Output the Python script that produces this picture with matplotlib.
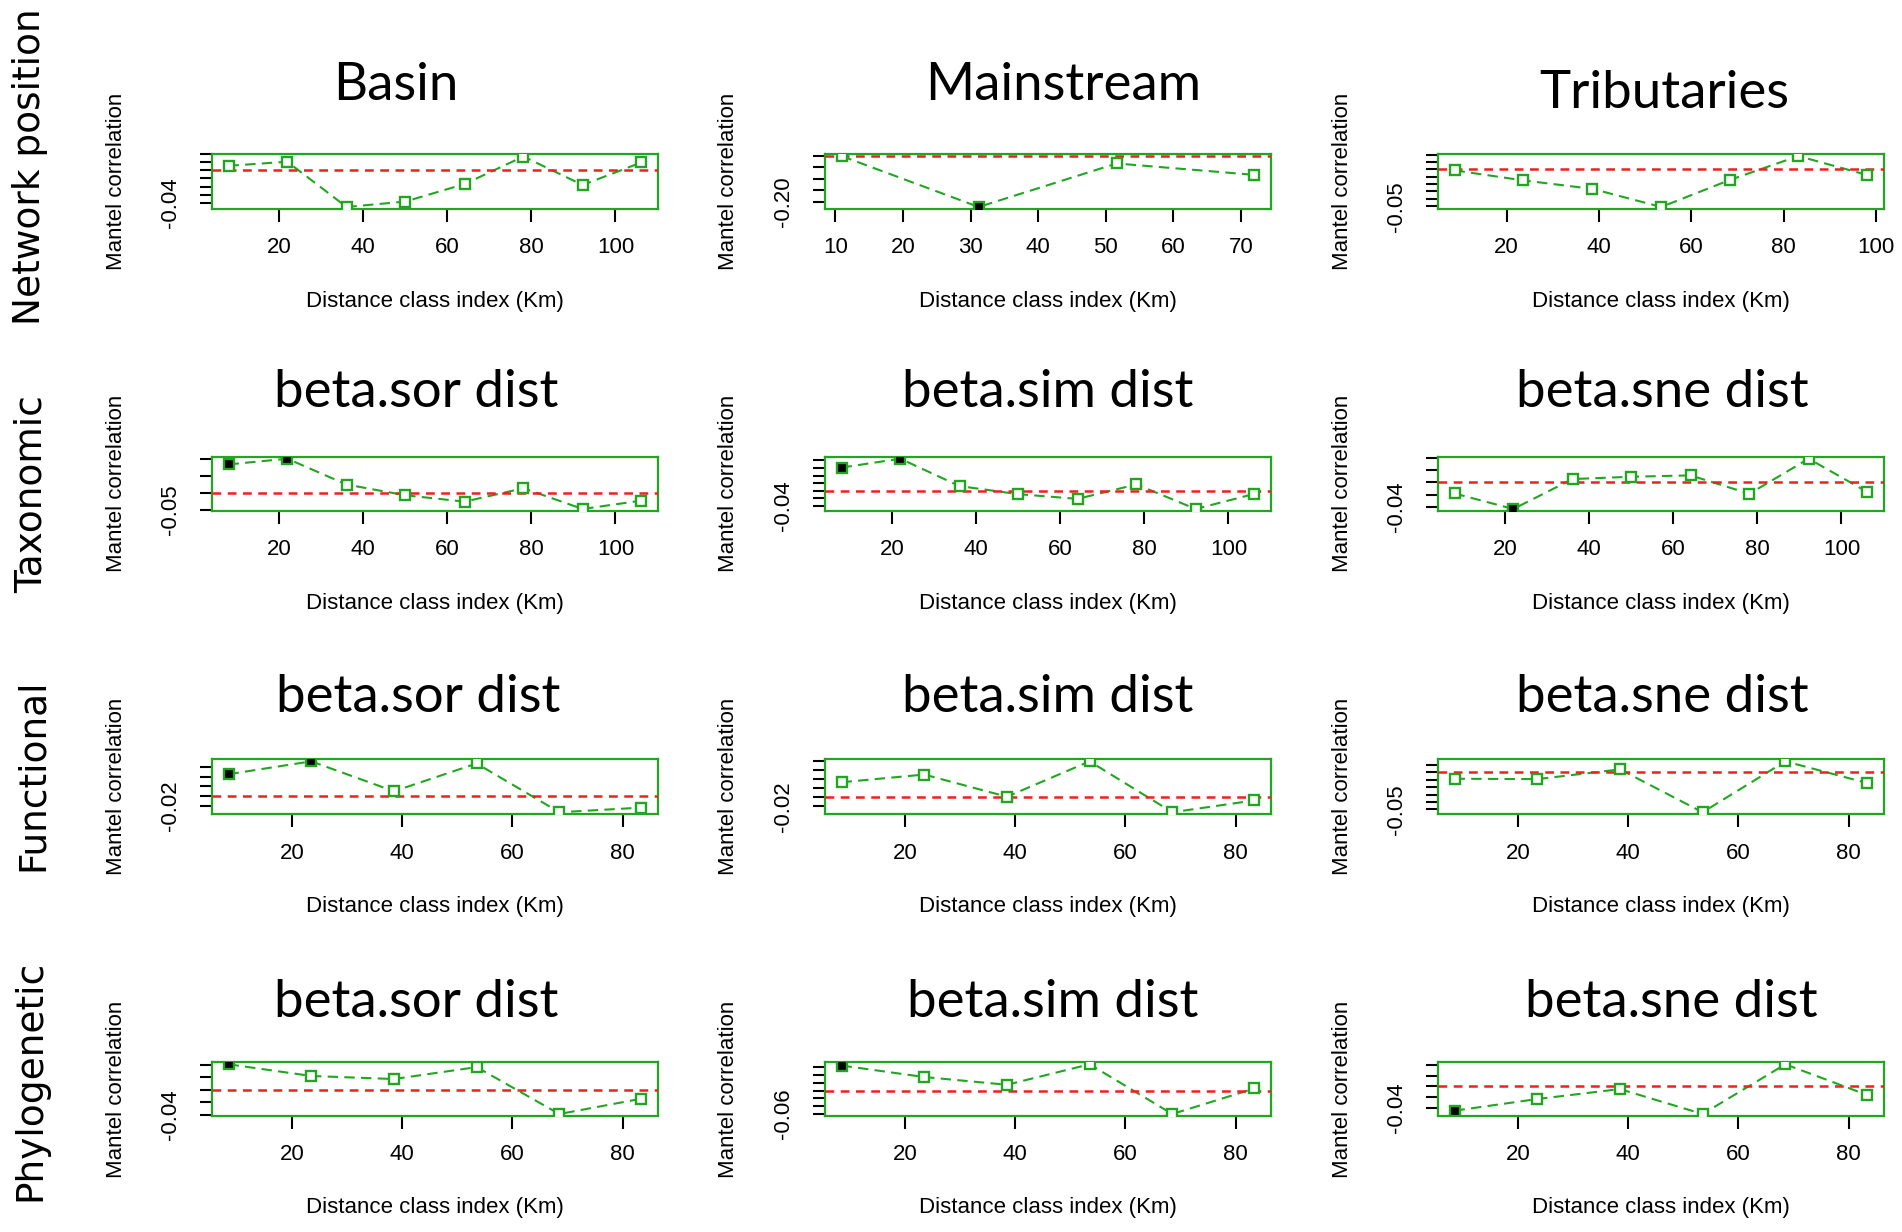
import matplotlib
matplotlib.use("Agg")
import matplotlib.pyplot as plt
import numpy as np

plt.rcParams['font.family'] = ['Liberation Sans', 'DejaVu Sans']

W, H, DPI = 1902, 1232, 100

# ---------------- data ----------------
row_labels = ["Network position", "Taxonomic", "Functional", "Phylogenetic"]
row1_titles = ["Basin", "Mainstream", "Tributaries"]
beta_titles = ["beta.sor dist", "beta.sim dist", "beta.sne dist"]

# distance class indices (Km)
x_basin = [7.9, 21.9, 36.0, 50.0, 64.1, 78.1, 92.2, 106.2]
x_main = [10.9, 31.2, 51.6, 72.0]
x_trib = [8.7, 23.6, 38.6, 53.5, 68.3, 83.2, 98.2]
x_trait = [8.5, 23.5, 38.5, 53.5, 68.5, 83.4]

xticks_basin = [20, 40, 60, 80, 100]
xticks_main = [10, 20, 30, 40, 50, 60, 70]
xticks_trib = [20, 40, 60, 80, 100]
xticks_trait = [20, 40, 60, 80]

# Mantel correlations; sig = 1 for filled (significant) points
net_basin_y = [0.0055, 0.0105, -0.0451, -0.0384, -0.0169, 0.0169, -0.0181, 0.0097]
net_basin_sig = [0, 0, 0, 0, 0, 0, 0, 0]
net_main_y = [-0.002, -0.221, -0.034, -0.083]
net_main_sig = [0, 1, 0, 0]
net_trib_y = [-0.0014, -0.0150, -0.0265, -0.0510, -0.0146, 0.0180, -0.0078]
net_trib_sig = [0, 0, 0, 0, 0, 0, 0]

tax_sor_y = [0.0833, 0.1000, 0.0245, -0.0069, -0.0255, 0.0137, -0.0470, -0.0225]
tax_sor_sig = [1, 1, 0, 0, 0, 0, 0, 0]
tax_sim_y = [0.0608, 0.0840, 0.0123, -0.0088, -0.0211, 0.0167, -0.0476, -0.0079]
tax_sim_sig = [1, 1, 0, 0, 0, 0, 0, 0]
tax_sne_y = [-0.0181, -0.0435, 0.0055, 0.0093, 0.0115, -0.0186, 0.0388, -0.0159]
tax_sne_sig = [0, 1, 0, 0, 0, 0, 0, 0]

fun_sor_y = [0.0452, 0.0720, 0.0097, 0.0675, -0.0340, -0.0243]
fun_sor_sig = [1, 1, 0, 0, 0, 0]
fun_sim_y = [0.0336, 0.0507, 0.0015, 0.0800, -0.0330, -0.0067]
fun_sim_sig = [0, 0, 0, 0, 0, 0]
fun_sne_y = [-0.0086, -0.0091, 0.0041, -0.0540, 0.0150, -0.0145]
fun_sne_sig = [0, 0, 0, 0, 0, 0]

phy_sor_y = [0.0410, 0.0223, 0.0174, 0.0365, -0.0386, -0.0141]
phy_sor_sig = [1, 0, 0, 0, 0, 0]
phy_sim_y = [0.0638, 0.0345, 0.0147, 0.0670, -0.0600, 0.0052]
phy_sim_sig = [1, 0, 0, 0, 0, 0]
phy_sne_y = [-0.0460, -0.0239, -0.0050, -0.0523, 0.0420, -0.0164]
phy_sne_sig = [1, 0, 0, 0, 0, 0]

# y ticks (only the lowest one is labelled, as in the original)
yt_net_basin = [-0.04, -0.03, -0.02, -0.01, 0.00, 0.01, 0.02]
yt_net_main = [-0.20, -0.15, -0.10, -0.05, 0.00]
yt_net_trib = [-0.05, -0.04, -0.03, -0.02, -0.01, 0.00, 0.01, 0.02]
yt_tax_sor = [-0.05, 0.00, 0.05, 0.10]
yt_tax_sim = [-0.04, -0.02, 0.00, 0.02, 0.04, 0.06, 0.08]
yt_tax_sne = [-0.04, -0.02, 0.00, 0.02, 0.04]
yt_fun_sor = [-0.02, 0.00, 0.02, 0.04, 0.06]
yt_fun_sim = [-0.02, 0.00, 0.02, 0.04, 0.06, 0.08]
yt_fun_sne = [-0.05, -0.04, -0.03, -0.02, -0.01, 0.00, 0.01]
yt_phy_sor = [-0.04, -0.02, 0.00, 0.02, 0.04]
yt_phy_sim = [-0.06, -0.04, -0.02, 0.00, 0.02, 0.04, 0.06]
yt_phy_sne = [-0.04, -0.02, 0.00, 0.02, 0.04]

ylabel_text = "Mantel correlation"
xlabel_text = "Distance class index (Km)"

panels = [
    [(x_basin, net_basin_y, net_basin_sig, xticks_basin, yt_net_basin),
     (x_main, net_main_y, net_main_sig, xticks_main, yt_net_main),
     (x_trib, net_trib_y, net_trib_sig, xticks_trib, yt_net_trib)],
    [(x_basin, tax_sor_y, tax_sor_sig, xticks_basin, yt_tax_sor),
     (x_basin, tax_sim_y, tax_sim_sig, xticks_basin, yt_tax_sim),
     (x_basin, tax_sne_y, tax_sne_sig, xticks_basin, yt_tax_sne)],
    [(x_trait, fun_sor_y, fun_sor_sig, xticks_trait, yt_fun_sor),
     (x_trait, fun_sim_y, fun_sim_sig, xticks_trait, yt_fun_sim),
     (x_trait, fun_sne_y, fun_sne_sig, xticks_trait, yt_fun_sne)],
    [(x_trait, phy_sor_y, phy_sor_sig, xticks_trait, yt_phy_sor),
     (x_trait, phy_sim_y, phy_sim_sig, xticks_trait, yt_phy_sim),
     (x_trait, phy_sne_y, phy_sne_sig, xticks_trait, yt_phy_sne)],
]
titles = [row1_titles, beta_titles, beta_titles, beta_titles]

# ---------------- layout (pixels) ----------------
col_left = [212, 825, 1438]
box_w = 446
row_top = [154, 456.7, 759.3, 1062.3]
box_h = [55, 54.3, 55, 53.7]
title_x = [[396, 1063, 1664], [416, 1048, 1662], [418, 1048, 1662], [416, 1053, 1671]]
title_base = [[100, 100, 108], [407, 407, 407], [712, 712, 712], [1017, 1017, 1017]]
rowlab_x = [30, 32, 33, 30]
rowlab_y = [167, 494, 775, 1080]

GREEN = "#22A622"
RED = "#EE2020"
FS = 16

fig = plt.figure(figsize=(W / DPI, H / DPI), dpi=DPI)


def fx(px):
    return px / W


def fy(py):
    return 1 - py / H


for r in range(4):
    for c in range(3):
        xs, ys, sg, xt, yt = panels[r][c]
        x = np.array(xs)
        y = np.array(ys)
        sig = np.array(sg, dtype=bool)
        left, top, h = col_left[c], row_top[r], box_h[r]
        ax = fig.add_axes([fx(left), fy(top + h), box_w / W, h / H])
        ax.plot(x, y, ls=(0, (5, 3)), color=GREEN, lw=1.5, zorder=2)
        ax.plot(x[~sig], y[~sig], 's', ms=7.2, mfc='white', mec=GREEN, mew=1.7, zorder=4)
        ax.plot(x[sig], y[sig], 's', ms=7.2, mfc='black', mec=GREEN, mew=1.7, zorder=4)
        xr = x.max() - x.min()
        yr = y.max() - y.min()
        ax.set_xlim(x.min() - 0.04 * xr, x.max() + 0.04 * xr)
        ax.set_ylim(y.min() - 0.04 * yr, y.max() + 0.04 * yr)
        ax.axhline(0, color=RED, lw=1.8, ls=(0, (3.5, 2.6)), zorder=3)
        ax.set_xticks(xt)
        ax.set_xticklabels([str(v) for v in xt])
        ax.set_yticks(yt)
        ylabs = ["%.2f" % v if i == 0 else "" for i, v in enumerate(yt)]
        ax.set_yticklabels(ylabs, rotation=90, va='center')
        ax.tick_params(axis='both', direction='out', length=9, width=1.5,
                       color='black', labelsize=FS)
        ax.tick_params(axis='x', pad=11.5)
        ax.tick_params(axis='y', pad=13)
        for s in ax.spines.values():
            s.set_color(GREEN)
            s.set_linewidth(1.6)
        ax.set_zorder(5)
        # axis labels
        fig.text(fx(left - 96), fy(top + h / 2), ylabel_text, rotation=90,
                 ha='center', va='center', fontsize=FS)
        fig.text(fx(left + box_w / 2), fy(top + h + 92), xlabel_text,
                 ha='center', va='center', fontsize=FS)
        # title
        fig.text(fx(title_x[r][c]), fy(title_base[r][c]), titles[r][c],
                 ha='center', va='baseline', fontsize=38, family=['Lato', 'DejaVu Sans'])

for i, lab in enumerate(row_labels):
    fig.text(fx(rowlab_x[i]), fy(rowlab_y[i]), lab, rotation=90, ha='center',
             va='center', fontsize=27, family=['DejaVu Sans'])

fig.savefig("out.png", dpi=DPI)
